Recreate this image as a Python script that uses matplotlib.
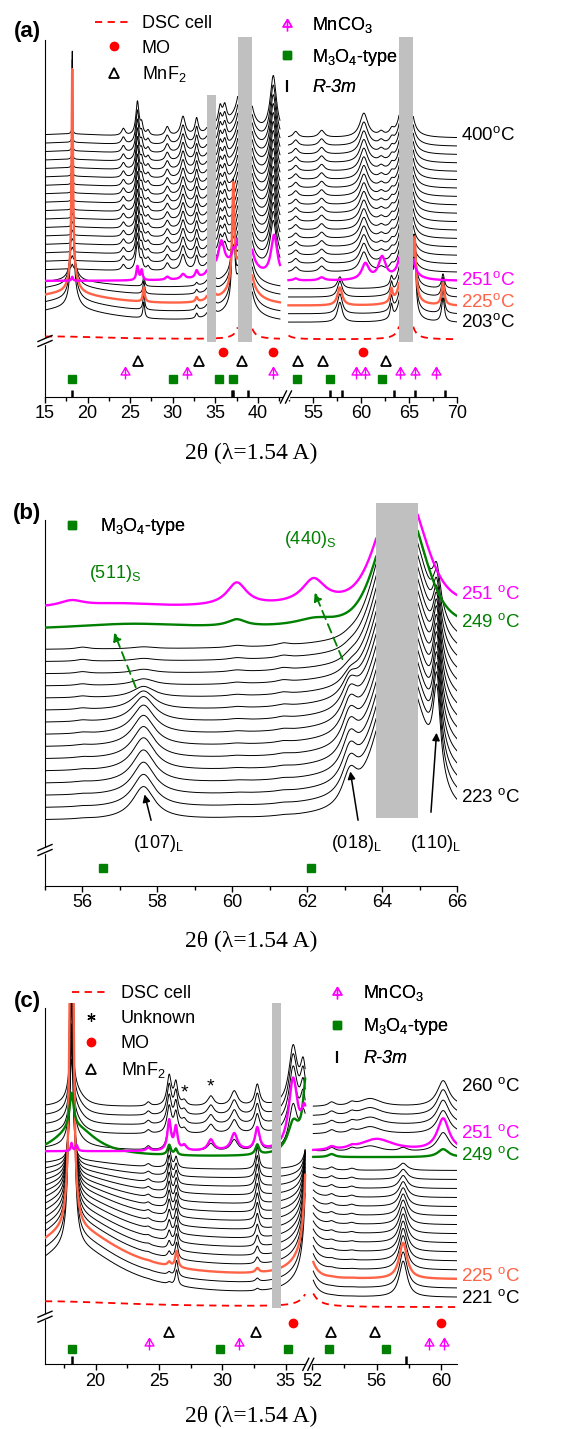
import numpy as np
import matplotlib
matplotlib.use('Agg')
import matplotlib.pyplot as plt
from matplotlib.lines import Line2D
from matplotlib.path import Path
from matplotlib.patches import Rectangle

plt.rcParams['font.family'] = ['Liberation Sans', 'DejaVu Sans']
plt.rcParams['mathtext.fontset'] = 'custom'
plt.rcParams['mathtext.rm'] = 'Liberation Sans'
plt.rcParams['mathtext.it'] = 'Liberation Sans:italic'

W, H = 572, 1429
ORANGE = '#ff6347'
MAGENTA = '#ff00ff'
GREEN = '#008000'
GREY = '#c0c0c0'

# ---------------- panel (a) ----------------
# reference reflections (2theta)
mo_a = [35.9, 41.8, 60.2]
mnf2_a = [25.95, 33.08, 38.16, 53.44, 56.04, 62.64]
mnco3_a = [24.39, 31.63, 41.8, 59.45, 60.45, 64.03, 65.59, 67.85]
m3o4_a = [18.21, 30.06, 35.42, 37.1, 53.37, 56.81, 62.23]
r3m_a = [18.21, 36.95, 37.1, 38.86, 56.81, 58.03, 63.4, 65.59, 68.72]
# peak tables: (2theta, height, fwhm)
cell_a = [(34.5, 80, 0.25), (38.45, 700, 0.3), (37.8, 18, 3.5), (64.7, 550, 0.3)]
lay_a = [(18.2, 230, 0.2), (18.3, 20, 1.2), (17.5, 14, 12), (26.6, 16, 0.25),
         (32.8, 5, 0.3), (37.1, 110, 0.3), (57.8, 20, 0.6), (63.17, 14, 0.3),
         (65.59, 60, 0.3), (68.54, 24, 0.35)]
lay_w_a = [1.0, 1.0, 0.9, 0.8, 0.6]
mag_a = [(18.2, 4, 0.2), (25.85, 14, 0.3), (26.35, 10, 0.25), (29.35, 3, 0.5),
         (31.2, 5, 0.6), (32.8, 7, 0.4), (35.7, 30, 0.9), (37.1, 6, 0.3),
         (41.9, 42, 0.9), (53.2, 2, 0.5), (55.9, 3, 0.7), (60.45, 16, 0.9),
         (62.2, 22, 0.9)]
up_a = [(18.2, 6, 0.25), (24.2, 7, 0.5), (25.85, 34, 0.45), (26.35, 10, 0.35),
        (27.1, 5, 0.4), (29.35, 9, 0.55), (31.2, 19, 0.65), (32.8, 16, 0.45),
        (35.55, 20, 0.55), (36.1, 18, 0.55), (41.8, 58, 0.9), (53.2, 6, 0.6),
        (55.9, 7, 0.7), (60.3, 24, 1.0), (62.1, 4, 0.6), (63.2, 5, 0.5),
        (17.5, 4, 12)]
up_w_a = [0.82, 0.83, 0.84, 0.85, 0.86, 0.87, 0.88, 0.89, 0.9, 0.91, 0.92,
          0.93, 0.94, 0.95, 0.96, 0.98, 1.0]
dsc_a = [(16, 3, 16), (38.45, 380, 0.3), (64.7, 330, 0.3), (51.5, 25, 0.8)]
gaps_a = [(33.98, 35.03), (37.62, 39.33), (63.96, 65.45)]
bar_top_a = [302, 360, 360]
labels_a = {0: '203', 2: '225', 5: '251', 22: '400'}

# ---------------- panel (b) ----------------
m3o4_b = [56.54, 62.09]
cellg_b = [(64.5, 120, 1.3)]
celll_b = [(64.5, 35, 2.4)]
lay_b = [(57.63, 33, 0.72), (63.14, 33, 0.5)]
l110_b = [(65.46, 88, 0.25)]
minor_b = [(56.0, 2, 0.4), (60.12, 2, 0.5), (61.36, 2.5, 0.4)]
lay_w_b = [1.0, 1.0, 1.0, 1.0, 1.0, 0.97, 0.94, 0.88, 0.77, 0.57, 0.34, 0.2,
           0.12, 0.08, 0.06]
w110_b = [1.0, 1.0, 0.97, 0.95, 0.92, 0.9, 0.86, 0.82, 0.78, 0.72, 0.66, 0.6,
          0.55, 0.5, 0.45]
minor_w_b = [0.3, 0.35, 0.4, 0.45, 0.5, 0.55, 0.6, 0.65, 0.7, 0.75, 0.8,
             0.85, 0.9, 0.95, 1.0]
grn_b = [(57.3, 6, 4.0), (60.12, 7, 0.6), (62.2, 6, 1.2)]
mag_b = [(55.71, 6, 0.8), (57.0, 4, 2.5), (60.12, 23, 0.65), (62.17, 24, 0.75)]
gap_b = (63.84, 64.95)

# ---------------- panel (c) ----------------
mo_c = [35.6, 60.0]
mnf2_c = [25.8, 32.7, 53.14, 55.9]
mnco3_c = [24.2, 31.3, 59.27, 60.2]
m3o4_c = [18.1, 29.85, 35.2, 53.05, 56.56]
r3m_c = [18.1, 57.8]
unknown_c = [27.0, 29.1]
lay_c = [(18.1, 600, 0.25), (18.3, 50, 9.0), (26.4, 15, 0.25), (36.85, 230, 0.45),
         (36.85, 20, 3.0), (51.7, 30, 0.8), (57.65, 36, 0.6)]
mnf_c = [(24.16, 3, 0.4), (25.81, 20, 0.3), (26.34, 8, 0.25), (32.77, 22, 0.32),
         (53.2, 3, 0.4), (54.45, 2, 0.4)]
up_c = [(18.1, 70, 0.35), (18.4, 15, 1.5), (24.16, 4, 0.4), (25.81, 30, 0.42),
        (26.34, 22, 0.35), (27.0, 5, 0.4), (29.1, 10, 0.6), (30.95, 15, 0.65),
        (32.77, 21, 0.45), (35.6, 58, 0.8), (36.4, 38, 0.55), (53.2, 4, 0.5),
        (54.45, 3, 0.5), (55.6, 8, 1.6), (60.14, 26, 0.9)]
grn_c = [(18.1, 35, 0.4), (18.4, 30, 4.0), (25.81, 10, 0.3), (26.34, 6, 0.25),
         (32.77, 10, 0.35), (35.6, 25, 1.0), (36.6, 60, 0.5), (36.6, 15, 2.5),
         (53.2, 3, 0.5), (60.14, 8, 0.8)]
mag_c = [(18.1, 8, 0.15), (18.5, 6, 0.2), (24.16, 3, 0.4), (25.81, 30, 0.32),
         (26.34, 23, 0.3), (27.0, 5, 0.4), (29.1, 11, 0.55), (30.95, 17, 0.6),
         (32.77, 22, 0.42), (35.6, 70, 0.85), (36.5, 35, 0.6), (53.2, 3, 0.5),
         (54.45, 2, 0.5), (56.0, 12, 2.5), (60.14, 32, 0.9)]
lay_w_c = [1.0, 1.0, 1.0, 0.95, 0.9, 0.85, 0.8, 0.74, 0.68, 0.6, 0.52, 0.44,
           0.36, 0.28, 0.2, 0, 0.1, 0, 0, 0, 0, 0]
mnf_w_c = [0.1, 0.15, 0.2, 0.3, 0.4, 0.5, 0.6, 0.7, 0.8, 0.85, 0.9, 0.95, 1.0,
           1.0, 1.0, 0, 0.3, 0, 0, 0, 0, 0]
up_w_c = [0, 0, 0, 0, 0, 0, 0, 0, 0, 0, 0, 0, 0, 0, 0, 0, 0.75, 0, 0.9, 0.95,
          1.0, 1.0]
dsc_c = [(16, 6, 16), (37.3, 40, 1.0), (51.5, 40, 0.8)]
gap_c = (33.9, 34.64)
labels_c = {0: '221', 2: '225', 15: '249', 17: '251', 21: '260'}


def prof(x, peaks):
    y = np.zeros_like(x)
    for c, h, w in peaks:
        y = y + h / (1 + ((x - c) / (w / 2)) ** 2)
    return y


def gprof(x, peaks):
    y = np.zeros_like(x)
    for c, h, w in peaks:
        y = y + h * np.exp(-4 * np.log(2) * ((x - c) / w) ** 2)
    return y


def cut(x, y, gaps):
    y = y.copy()
    for a, b in gaps:
        y[(x > a) & (x < b)] = np.nan
    return y


fig = plt.figure(figsize=(W / 100, H / 100), dpi=100)


def px_axes(x0, x1, ytop, ybot):
    return fig.add_axes([x0 / W, 1 - ybot / H, (x1 - x0) / W, (ybot - ytop) / H])


def style(ax, major, minor, left=True):
    ax.set_xticks(major)
    ax.set_xticks(minor, minor=True)
    ax.set_yticks([])
    for s in ['top', 'right']:
        ax.spines[s].set_visible(False)
    ax.spines['left'].set_visible(left)
    ax.tick_params(axis='x', which='major', direction='out', length=4, width=1,
                   labelsize=13, pad=2)
    ax.tick_params(axis='x', which='minor', direction='out', length=3, width=1)
    ax.patch.set_alpha(0)


tri_path = Path([(-0.45, -0.25), (0, 0.5), (0.45, -0.25), (-0.45, -0.25),
                 (0, 0.5), (0, -0.7)],
                [Path.MOVETO, Path.LINETO, Path.LINETO, Path.CLOSEPOLY,
                 Path.MOVETO, Path.LINETO])
st = dict(ls='none', clip_on=False)
mk_mo = dict(marker='o', color='red', ms=6, **st)
mk_mnf2 = dict(marker='^', mfc='none', mec='black', ms=7, mew=1.3, **st)
mk_mnco3 = dict(marker=tri_path, mfc='none', mec=MAGENTA, ms=10, mew=1.0, **st)
mk_m3o4 = dict(marker='s', color=GREEN, ms=5.6, **st)


def inside(ax, xs):
    lo, hi = ax.get_xlim()
    return [v for v in xs if lo < v < hi]


def refs(axes, xs, y, kw):
    for ax in axes:
        sel = inside(ax, xs)
        ax.plot(sel, [y] * len(sel), **kw)


def bars(axes, xs, h):
    for ax in axes:
        ax.vlines(inside(ax, xs), 0, h, color='black', lw=1.8)


def tlabel(ax, x, y, txt, color):
    ax.annotate(txt + r'$^{\rm o}$C', xy=(x, y), xytext=(3, 0),
                textcoords='offset points', va='center', ha='left',
                fontsize=13.5, color=color, annotation_clip=False)


def legend_col(ax, handles, labels, x, y, spacing, hl, pad):
    leg = ax.legend(handles, labels, loc='upper left',
                    bbox_to_anchor=(x / W, 1 - y / H),
                    bbox_transform=fig.transFigure, frameon=False, borderpad=0,
                    borderaxespad=0, labelspacing=spacing, handlelength=hl,
                    handletextpad=pad, fontsize=13)
    ax.add_artist(leg)
    return leg


h_dsc = Line2D([], [], color='red', ls=(0, (4, 3)), lw=1.3)
h_mo = Line2D([], [], **mk_mo)
h_mnf2 = Line2D([], [], **mk_mnf2)
h_mnco3 = Line2D([], [], **mk_mnco3)
h_m3o4 = Line2D([], [], **mk_m3o4)
h_r3m = Line2D([], [], ls='none', marker='|', color='black', ms=8, mew=1.5)
h_unk = Line2D([], [], ls='none', marker=(6, 2, 0), color='black', ms=6, mew=0.9)

# ======== panel (a) ========
axl = px_axes(45, 286, 37, 397)
axr = px_axes(286, 457, 37, 397)
axl.set_xlim(15, 43.29)
axr.set_xlim(52.19, 70)
for ax in (axl, axr):
    ax.set_ylim(0, 360)
style(axl, [15, 20, 25, 30, 35, 40], [17.5, 22.5, 27.5, 32.5, 37.5, 42.5])
style(axr, [55, 60, 65, 70], [52.5, 57.5, 62.5, 67.5], left=False)
axl.spines['left'].set_bounds(0, 357)

xa = [np.linspace(15, 42.58, 1500), np.linspace(52.45, 70, 1000)]
for i in range(23):
    off = 74 + 8.4 * i
    if i == 2:
        col, lw, z = ORANGE, 1.7, 3
    elif i == 5:
        col, lw, z = MAGENTA, 1.7, 3
    else:
        col, lw, z = 'black', 0.7, 2
    for ax, x in zip((axl, axr), xa):
        y = off + prof(x, cell_a)
        if i < 5:
            y = y + lay_w_a[i] * prof(x, lay_a)
        elif i == 5:
            y = y + prof(x, mag_a)
        else:
            y = y + up_w_a[i - 6] * prof(x, up_a)
        ax.plot(x, cut(x, y, gaps_a), color=col, lw=lw, zorder=z)
for ax, x in zip((axl, axr), xa):
    ax.plot(x, cut(x, 57.5 + prof(x, dsc_a), gaps_a), color='red', lw=1.3,
            ls=(0, (4, 3)), zorder=3)
    lo, hi = ax.get_xlim()
    for (a, b), top in zip(gaps_a, bar_top_a):
        if lo < a < hi:
            ax.bar((a + b) / 2, top - 55, width=b - a, bottom=55, color=GREY,
                   zorder=5, clip_on=False)
for i, t in labels_a.items():
    col = {2: ORANGE, 5: MAGENTA}.get(i, 'black')
    y = {0: 75.3, 2: 95.3, 5: 117, 22: 262}[i]
    tlabel(axr, 70, y, t, col)

refs((axl, axr), mo_a, 45, mk_mo)
refs((axl, axr), mnf2_a, 36, mk_mnf2)
refs((axl, axr), mnco3_a, 25, mk_mnco3)
refs((axl, axr), m3o4_a, 18, mk_m3o4)
bars((axl, axr), r3m_a, 7)

legend_col(axl, [h_dsc, h_mo, h_mnf2], ['DSC cell', 'MO', 'MnF$_2$'],
           95, 15, 0.42, 2.1, 0.5)
lg = legend_col(axl, [h_mnco3, h_m3o4, h_r3m],
                ['MnCO$_3$', 'M$_3$O$_4$-type', 'R-3m'], 278, 15, 0.65, 1.0, 0.9)
lg.get_texts()[2].set_fontstyle('italic')

# ======== panel (b) ========
axb = px_axes(45, 457, 503.3, 885.7)
axb.set_xlim(55, 66)
axb.set_ylim(0, 382.4)
style(axb, [56, 58, 60, 62, 64, 66], [55, 57, 59, 61, 63, 65])
axb.spines['left'].set_bounds(0, 365.7)
xb = np.linspace(55, 66, 1600)
cell = gprof(xb, cellg_b) + prof(xb, celll_b)
for i in range(15):
    y = (65 + 12.2 * i + cell + lay_w_b[i] * prof(xb, lay_b)
         + w110_b[i] * prof(xb, l110_b) + minor_w_b[i] * prof(xb, minor_b))
    axb.plot(xb, cut(xb, y, [gap_b]), color='black', lw=0.7, zorder=2)
axb.plot(xb, cut(xb, 255 + 0.85 * cell + prof(xb, grn_b), [gap_b]), color=GREEN,
         lw=1.7, zorder=3)
axb.plot(xb, cut(xb, 277 + 0.8 * cell + prof(xb, mag_b), [gap_b]),
         color=MAGENTA, lw=1.7, zorder=3)
axb.bar(sum(gap_b) / 2, 382.4 - 68, width=gap_b[1] - gap_b[0], bottom=68,
        color=GREY, zorder=5)
refs([axb], m3o4_b, 17.4, mk_m3o4)
tlabel(axb, 66, 291.7, '251 ', MAGENTA)
tlabel(axb, 66, 264, '249 ', GREEN)
tlabel(axb, 66, 89, '223 ', 'black')
legend_col(axb, [h_m3o4], ['M$_3$O$_4$-type'], 63, 516, 0.2, 1.0, 1.05)
axb.text(56.87, 312.7, r'(511)$_{\rm S}$', color=GREEN, fontsize=13,
         ha='center', va='center')
axb.text(62.08, 346.7, r'(440)$_{\rm S}$', color=GREEN, fontsize=13,
         ha='center', va='center')
for txt, xt, x0, y0, x1, y1 in [('(107)', 58.03, 57.85, 62.7, 57.64, 94),
                                ('(018)', 63.32, 63.37, 62.7, 63.14, 117),
                                ('(110)', 65.41, 65.3, 70.7, 65.46, 155.7)]:
    axb.text(xt, 42.7, txt + r'$_{\rm L}$', fontsize=13, ha='center',
             va='center', zorder=6)
    axb.annotate('', xy=(x1, y1), xytext=(x0, y0), zorder=6,
                 arrowprops=dict(arrowstyle='-|>', color='black', lw=1.1,
                                 mutation_scale=11))
for x0, y0, x1, y1 in [(57.45, 195.7, 56.82, 255.7), (62.97, 224, 62.17, 295.7)]:
    axb.annotate('', xy=(x1, y1), xytext=(x0, y0), zorder=6,
                 arrowprops=dict(arrowstyle='-|>', color=GREEN, lw=1.3,
                                 ls=(0, (5, 3)), mutation_scale=12))

# ======== panel (c) ========
acl = px_axes(45, 308.3, 1003.3, 1364.3)
acr = px_axes(308.3, 457, 1003.3, 1364.3)
acl.set_xlim(16, 36.8)
acr.set_xlim(51.75, 61)
for ax in (acl, acr):
    ax.set_ylim(0, 361)
style(acl, [20, 25, 30, 35], [17.5, 22.5, 27.5, 32.5])
style(acr, [52, 56, 60], [54, 58], left=False)
acl.spines['left'].set_bounds(0, 356)
xc = [np.linspace(16, 36.55, 1500), np.linspace(52.06, 61, 900)]
for i in range(22):
    for ax, x in zip((acl, acr), xc):
        if i == 15:
            y, col, lw, z = 207 + prof(x, grn_c), GREEN, 1.7, 3
        elif i == 17:
            y, col, lw, z = 213 + prof(x, mag_c), MAGENTA, 1.7, 4
        else:
            y = (66.3 + 9.1 * i + lay_w_c[i] * prof(x, lay_c)
                 + mnf_w_c[i] * prof(x, mnf_c) + up_w_c[i] * prof(x, up_c))
            col, lw, z = ('black', 0.7, 2) if i != 2 else (ORANGE, 1.7, 3)
        ax.plot(x, cut(x, y, [gap_c]), color=col, lw=lw, zorder=z)
for ax, x in zip((acl, acr), xc):
    ax.plot(x, cut(x, 57 + prof(x, dsc_c), [gap_c]), color='red', lw=1.3,
            ls=(0, (4, 3)), zorder=3)
acl.bar(sum(gap_c) / 2, 361 - 56, width=gap_c[1] - gap_c[0], bottom=56,
        color=GREY, zorder=5)
for i, y in [(0, 66.6), (2, 88.3), (15, 209.3), (17, 231), (21, 278.6)]:
    col = {2: ORANGE, 15: GREEN, 17: MAGENTA}.get(i, 'black')
    tlabel(acr, 61, y, labels_c[i] + ' ', col)
for xs, yv in zip(unknown_c, [271, 277]):
    acl.text(xs, yv, '*', fontsize=14, ha='center', va='center')
refs((acl, acr), mo_c, 41, mk_mo)
refs((acl, acr), mnf2_c, 32, mk_mnf2)
refs((acl, acr), mnco3_c, 21.6, mk_mnco3)
refs((acl, acr), m3o4_c, 15.3, mk_m3o4)
bars((acl, acr), r3m_c, 8)
legend_col(acl, [h_dsc, h_unk, h_mo, h_mnf2],
           ['DSC cell', 'Unknown', 'MO', 'MnF$_2$'], 72, 985, 0.44, 2.1, 0.6)
lg = legend_col(acl, [h_mnco3, h_m3o4, h_r3m],
                ['MnCO$_3$', 'M$_3$O$_4$-type', 'R-3m'], 328, 983, 0.73, 1.0, 0.95)
lg.get_texts()[2].set_fontstyle('italic')

# ======== shared text and break marks ========
for yy, tag in [(32, '(a)'), (513, '(b)'), (1002, '(c)')]:
    fig.text(27 / W, 1 - yy / H, tag, ha='center', va='center', fontsize=16,
             fontweight='bold')
for yy in [453, 941.7, 1416.7]:
    fig.text(251 / W, 1 - yy / H, '2θ (λ=1.54 A)', ha='center', va='center',
             fontsize=17, family='Liberation Serif')

ov = fig.add_axes([0, 0, 1, 1])
ov.set_zorder(10)
ov.set_xlim(0, W)
ov.set_ylim(H, 0)
ov.axis('off')
for x, y in [(45, 341), (45, 850), (45, 1316.7)]:
    ov.add_patch(Rectangle((x - 2, y - 2.5), 4, 5, color='white'))
    for d in (-2.5, 2.5):
        ov.plot([x - 7, x + 7], [y + d + 3, y + d - 3], color='black', lw=1)
for x, y in [(286, 397), (308.3, 1364.3)]:
    ov.add_patch(Rectangle((x - 2.5, y - 2), 5, 4, color='white'))
    for d in (-2.5, 2.5):
        ov.plot([x + d - 3, x + d + 3], [y + 6, y - 6], color='black', lw=1)

fig.savefig('out.png', dpi=100)
